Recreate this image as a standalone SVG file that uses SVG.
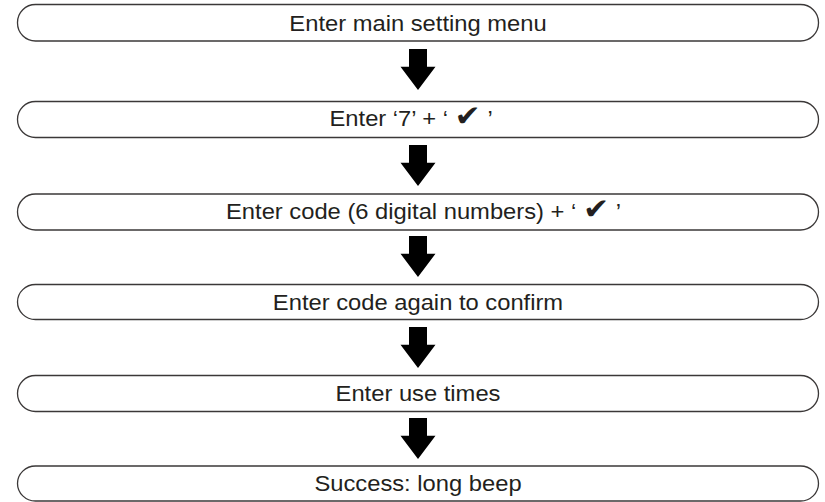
<svg xmlns="http://www.w3.org/2000/svg" width="825" height="502" viewBox="0 0 825 502">
  <style>
    .step rect { fill: #ffffff; stroke: #3b3838; stroke-width: 1.3; }
    .step text { font-family: "Liberation Sans", Arial, sans-serif; font-size: 22px; fill: #231f20; }
    .mid { text-anchor: middle; }
    .tick { font-family: "DejaVu Sans", sans-serif; font-size: 29px; }
    .flow path { fill: #231f20; }
  </style>
  <defs>
    <path id="down" d="M409,0 H427 V17.7 H435.5 L418,41 L400.5,17.7 H409 Z"/>
  </defs>
  <rect width="825" height="502" fill="#ffffff"/>

  <!-- labels use a slightly widened Arial-style face: scale(1.08,1) -->
  <g id="step1" class="step">
    <rect x="17.5" y="4.5" width="801" height="36.5" rx="18" ry="18"/>
    <text class="mid" transform="matrix(1.08 0 0 1 418 30.5)">Enter main setting menu</text>
  </g>
  <g id="step2" class="step">
    <rect x="17.5" y="101.5" width="801" height="36" rx="18" ry="18"/>
    <text transform="matrix(1.08 0 0 1 329.5 126)">Enter ‘7’ + ‘ <tspan class="tick">✔</tspan> ’</text>
  </g>
  <g id="step3" class="step">
    <rect x="17.5" y="194" width="801" height="36" rx="18" ry="18"/>
    <text transform="matrix(1.08 0 0 1 226 219)">Enter code (6 digital numbers) + ‘ <tspan class="tick">✔</tspan> ’</text>
  </g>
  <g id="step4" class="step">
    <rect x="17.5" y="284.5" width="801" height="35" rx="18" ry="18"/>
    <text class="mid" transform="matrix(1.08 0 0 1 418 309.5)">Enter code again to confirm</text>
  </g>
  <g id="step5" class="step">
    <rect x="17.5" y="375.5" width="801" height="36" rx="18" ry="18"/>
    <text class="mid" transform="matrix(1.08 0 0 1 418 400.5)">Enter use times</text>
  </g>
  <g id="step6" class="step">
    <rect x="17.5" y="466" width="801" height="35" rx="18" ry="18"/>
    <text class="mid" transform="matrix(1.08 0 0 1 418 491)">Success: long beep</text>
  </g>

  <g id="connectors" class="flow">
    <use href="#down" y="49"/>
    <use href="#down" y="145"/>
    <use href="#down" y="236"/>
    <use href="#down" y="327"/>
    <use href="#down" y="418"/>
  </g>
</svg>
